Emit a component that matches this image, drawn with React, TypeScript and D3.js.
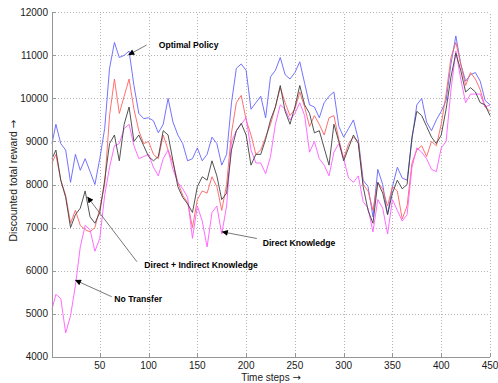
import * as d3 from 'd3'

const steps = d3.range(0, 451, 5).map((d) => (d === 0 ? 1 : d))

const optimalPolicy = [
  8950, 9400, 8950, 8800, 8050, 8700, 8330, 8600, 8300, 8000,
  8600, 9300, 10700, 11300, 10950, 11000, 11100, 10300, 9650, 9530,
  9550, 9480, 9200, 9400, 10000, 9450, 9150, 8950, 8550, 8600,
  8850, 8550, 8700, 9100, 8950, 8450, 8700, 9900, 10700, 10800,
  10650, 9750, 9900, 10050, 9550, 10500, 10650, 10950, 10550, 10450,
  10600, 10850, 10350, 9850, 9800, 9550, 9900, 10050, 10150, 9350,
  9100, 9300, 9500, 9050, 8100, 7950, 7250, 8350, 8000, 7300,
  7950, 8400, 8150, 8100, 9050, 9850, 10000, 9450, 9250, 9500,
  9700, 9950, 10800, 11450, 10800, 10400, 10550, 10600, 10400, 9950,
  9850,
]

const directKnowledge = [
  8500, 8700, 8100, 7750, 7100, 7400, 7050, 6950, 6900, 7000,
  7450, 8000, 9600, 10450, 9650, 10050, 10450, 9750, 9250, 8950,
  9000, 8700, 8600, 9150, 8800, 8500, 8050, 7750, 7580, 7000,
  7650, 7850, 7800, 8180, 7950, 7400, 8000, 9200, 9900, 10070,
  9500, 9150, 8700, 8800, 9100, 9400, 9800, 10250, 9900, 9600,
  9750, 10150, 9800, 9350, 9600, 9400, 9150, 9550, 9600, 9050,
  8600, 8950, 9100, 9000, 8000, 7850, 7400, 8050, 7900, 7500,
  7950, 7850, 7200, 7500, 8500, 8800, 8900, 8650, 9000, 8900,
  9400, 10100, 10950, 11300, 10800, 10300, 10600, 10450, 10200, 9800,
  9700,
]

const directIndirect = [
  8600, 8800, 8100, 7700, 7000, 7300, 7450, 7850, 7250, 7100,
  7350, 8100, 8950, 9150, 8550, 9400, 9800, 9000, 9150, 8900,
  8650, 8550, 8650, 9250, 9150, 8550, 7950, 7700, 7550, 7350,
  7950, 8180, 8100, 8550, 8200, 7650, 7800, 8800, 9250, 9420,
  9150, 8450, 8700, 8700, 9050, 9500, 9800, 10300, 9700, 9400,
  9800, 10300, 9850, 9650, 9200, 9250, 8850, 8450, 9400, 9000,
  8550, 8850, 9150, 8950, 7950, 7400, 7100, 8050, 7800, 7300,
  7800, 8100, 7900, 8000, 9100, 9700, 9600, 9350, 9100, 8950,
  9150, 9750, 10500, 11050, 10650, 10150, 10250, 10150, 9900, 9850,
  9600,
]

const noTransfer = [
  5100, 5450, 5350, 4550, 4950, 5650, 6550, 7050, 6950, 6450,
  6750, 7750, 8400, 8900, 8950, 9300, 9400, 8900, 8600, 8650,
  8700, 8400, 8200, 8600, 8800, 8350, 8050, 7900, 7700, 6750,
  7500, 7150, 6550, 7350, 7500, 6850, 7500, 9000, 9250, 9400,
  9550, 8800, 8500, 8500, 8250, 8650, 9400, 9850, 9750, 9500,
  9650, 9900, 9600, 8750, 9000, 8600, 8450, 8200, 8750, 8950,
  8600, 8150, 8050, 8200, 7600, 7450, 6900, 7650, 7450, 6850,
  7650, 7400, 7150, 7300, 8400, 8850, 8750, 8600, 8350, 8300,
  8850, 9000, 10200, 11100, 10450, 9900, 10100, 10100, 10100, 9800,
  9850,
]

const series = [
  { name: 'Optimal Policy', values: optimalPolicy, color: '#6464ff' },
  { name: 'Direct Knowledge', values: directKnowledge, color: '#ff6262' },
  { name: 'No Transfer', values: noTransfer, color: '#ff5cff' },
  { name: 'Direct + Indirect Knowledge', values: directIndirect, color: '#404040' },
]

const xTicks = [50, 100, 150, 200, 250, 300, 350, 400, 450]
const yTicks = [4000, 5000, 6000, 7000, 8000, 9000, 10000, 11000, 12000]

// label position and arrow (from -> to), all in data units
const notes = [
  { text: 'Optimal Policy', tx: 110.4, ty: 11180, from: [98, 11240], to: [79.2, 11008] },
  { text: 'Direct Knowledge', tx: 217, ty: 6570, from: [211, 6745], to: [175, 6903] },
  { text: 'Direct + Indirect Knowledge', tx: 95.6, ty: 6060, from: [88, 6207], to: [37.2, 7716] },
  { text: 'No Transfer', tx: 64.9, ty: 5270, from: [62.2, 5393], to: [24.6, 5781] },
]

const width = 498
const height = 383
const margin = { top: 12.3, right: 8, bottom: 26.3, left: 52 }
const font = 'Liberation Sans, Arial, Helvetica, sans-serif'
const arrowFont = 'DejaVu Sans, sans-serif'

export default function App() {
  const x = d3.scaleLinear().domain([1, 450]).range([margin.left, width - margin.right])
  const y = d3.scaleLinear().domain([4000, 12000]).range([height - margin.bottom, margin.top])

  const line = d3
    .line<number>()
    .x((_, i) => x(steps[i]))
    .y((d) => y(d))

  const x0 = x(1)
  const x1 = x(450)
  const y0 = y(4000)
  const y1 = y(12000)

  return (
    <svg
      width={width}
      height={height}
      style={{ position: 'absolute', left: 0, top: 0, background: '#fff' }}
      fontFamily={font}
    >
      <defs>
        <marker id="head" viewBox="0 0 10 10" refX="10" refY="5" markerWidth="7" markerHeight="6" orient="auto" markerUnits="userSpaceOnUse">
          <path d="M0,0 L10,5 L0,10 z" fill="#000" />
        </marker>
      </defs>

      {/* grid */}
      <g stroke="#b4b4b4" strokeWidth={1} strokeDasharray="1,2" shapeRendering="crispEdges">
        {xTicks.map((t) => (
          <line key={'gx' + t} x1={Math.round(x(t)) + 0.5} x2={Math.round(x(t)) + 0.5} y1={y0} y2={y1} />
        ))}
        {yTicks.slice(1).map((t) => (
          <line key={'gy' + t} x1={x0} x2={x1} y1={Math.round(y(t)) + 0.5} y2={Math.round(y(t)) + 0.5} />
        ))}
      </g>

      {/* series */}
      <g fill="none" strokeWidth={1} strokeLinejoin="round">
        {series.map((s) => (
          <path key={s.name} d={line(s.values) ?? ''} stroke={s.color} strokeOpacity={0.9} />
        ))}
      </g>

      {/* axes */}
      <g stroke="#969696" strokeWidth={1} shapeRendering="crispEdges">
        <line x1={Math.round(x0) + 0.5} x2={Math.round(x0) + 0.5} y1={y0} y2={y1} />
        <line x1={x0} x2={x1} y1={Math.round(y0) + 0.5} y2={Math.round(y0) + 0.5} />
        {yTicks.map((t) => (
          <line key={'ty' + t} x1={x0} x2={x0 + 4} y1={Math.round(y(t)) + 0.5} y2={Math.round(y(t)) + 0.5} />
        ))}
        {xTicks.map((t) => (
          <line key={'tx' + t} x1={Math.round(x(t)) + 0.5} x2={Math.round(x(t)) + 0.5} y1={y0} y2={y0 - 4} />
        ))}
      </g>

      <g fontSize={10} fill="#1a1a1a">
        {yTicks.map((t) => (
          <text key={'ly' + t} x={x0 - 4} y={y(t)} dy="0.35em" textAnchor="end">
            {t}
          </text>
        ))}
        {xTicks.map((t) => (
          <text key={'lx' + t} x={x(t)} y={y0 + 12} textAnchor="middle">
            {t}
          </text>
        ))}
        <text x={(x0 + x1) / 2} y={381} textAnchor="middle">
          Time steps <tspan fontFamily={arrowFont}>→</tspan>
        </text>
        <text transform={`translate(16.5,${(y0 + y1) / 2 - 4}) rotate(-90)`} textAnchor="middle" fontSize={10.5}>
          Discounted total reward <tspan fontFamily={arrowFont}>→</tspan>
        </text>
      </g>

      {/* annotations */}
      <g>
        {notes.map((n) => (
          <g key={n.text}>
            <line
              x1={x(n.from[0])}
              y1={y(n.from[1])}
              x2={x(n.to[0])}
              y2={y(n.to[1])}
              stroke="#555"
              strokeWidth={0.8}
              markerEnd="url(#head)"
            />
            <text x={x(n.tx)} y={y(n.ty)} fontSize={8.6} fontWeight="bold" fill="#000">
              {n.text}
            </text>
          </g>
        ))}
      </g>
    </svg>
  )
}
